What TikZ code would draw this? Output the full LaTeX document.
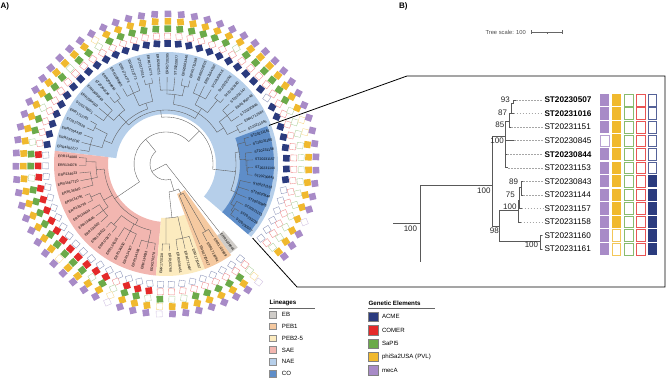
\documentclass[tikz,border=0pt]{standalone}
\usepackage{fontspec}
\setmainfont{Liberation Sans}
\usetikzlibrary{positioning}

\definecolor{acme}{HTML}{2B3B7E}
\definecolor{comer}{HTML}{E42A2A}
\definecolor{sapi}{HTML}{6BAA4A}
\definecolor{pvl}{HTML}{F0B92E}
\definecolor{meca}{HTML}{A88BC7}
\definecolor{ebc}{HTML}{CFCCC8}
\definecolor{pebone}{HTML}{F5C9A0}
\definecolor{pebtwo}{HTML}{FCEBBF}
\definecolor{saec}{HTML}{F2B6B0}
\definecolor{naec}{HTML}{B6CFEA}
\definecolor{coc}{HTML}{5E8DC8}

\tikzset{
  declare function={lf(\x)=-38+5.09*\x;},
  branch/.style={draw=black!65, line width=0.35pt},
  guide/.style={draw=black!35, dash pattern=on 1.5pt off 1.5pt, line width=0.35pt},
  leaflab/.style={font=\fontsize{3.5}{4}\selectfont, inner sep=0pt},
  tiplab/.style={font=\fontsize{8.2}{9}\selectfont, inner sep=0pt, anchor=west},
  bootlab/.style={font=\fontsize{8}{9}\selectfont, inner sep=0pt, anchor=east, text=black!85},
  legtitle/.style={font=\bfseries\fontsize{6.2}{7}\selectfont, inner sep=0pt, anchor=west},
  legtext/.style={font=\fontsize{6.1}{7}\selectfont, inner sep=0pt},
  linbox/.style={draw=black!45, line width=0.3pt, minimum width=7.2pt, minimum height=6.8pt, inner sep=0pt},
  gebox/.style={draw=black!50, line width=0.3pt, minimum width=9.3pt, minimum height=9.3pt, inner sep=0pt},
  callout/.style={draw=black, line width=0.8pt},
  panlab/.style={font=\bfseries\fontsize{8}{9}\selectfont, inner sep=0pt, anchor=west}
}

% annular sector: colour, from leaf, to leaf, inner r, outer r
\newcommand\sector[5]{%
  \pgfmathsetmacro\angA{lf(#2)}\pgfmathsetmacro\angB{lf(#3)}%
  \fill[#1] (\angA:#4) arc[start angle=\angA, end angle=\angB, radius=#4]
    -- (\angB:#5) arc[start angle=\angB, end angle=\angA, radius=#5] -- cycle;}
% ring square in panel A: value, colour, radius (uses \ang)
\newcommand\ringsq[3]{\ifnum#1=1
  \fill[#2, shift={(\ang:#3)}, rotate=\ang] (-3.3,-3.3) rectangle (3.3,3.3);\else
  \draw[#2!55, line width=0.35pt, fill=white, shift={(\ang:#3)}, rotate=\ang] (-3,-3) rectangle (3,3);\fi}
% square in panel B: value, colour, x centre (uses \yy)
\newcommand\bsq[3]{\ifnum#1=1
  \fill[#2] (#3-4.65,\yy-6.2) rectangle (#3+4.65,\yy+6.2);\else
  \draw[#2!80, line width=0.55pt] (#3-4.2,\yy-5.8) rectangle (#3+4.2,\yy+5.8);\fi}

\begin{document}
\begin{tikzpicture}[x=1pt, y=-1pt]
\useasboundingbox (0,0) rectangle (666,379);

\node[panlab] (labA) at (0.5,6) {A)};
\node[panlab] (labB) at (399,6) {B)};

% ---- A) circular tree
\begin{scope}[shift={(166,164)}, yscale=-1]
  % clade ranges
  \sector{naec}{-0.5}{41.5}{50}{112}
  \sector{coc}{-0.5}{11.5}{74}{108}
  \sector{saec}{41.5}{59.5}{58}{112}
  \sector{pebtwo}{59.5}{64.5}{54}{112}
  \sector{pebone}{64.5}{67.5}{32}{112}
  \sector{ebc}{67.5}{68.5}{88}{110}

  % internal nodes: radius / first child / last child / parent radius
  \foreach \r/\f/\t/\p in {
    82/0/1/80, 80/0.5/2/76, 76/1.25/5/70, 82/6/7/81, 81/6.5/8/80,
    80/7.25/9/74, 82/10/11/74, 74/8.125/10.5/70, 70/3.125/9.3125/47,
    80/12/13/68, 78/14/16/68, 68/12.5/15/60, 82/17/18/66, 76/19/21/66,
    66/17.5/20/60, 80/22/23/70, 74/24/26/70, 70/22.5/25/60, 60/13.75/23.75/54,
    82/27/28/64, 78/29/31/64, 64/27.5/30/58, 80/32/33/68, 76/34/36/68,
    68/32.5/35/58, 80/37/38/66, 78/39/41/66, 66/37.5/40/58, 58/28.75/38.75/54,
    54/18.75/33.75/47, 47/6.21875/26.25/32,
    80/42/43/70, 76/44/46/70, 70/42.5/45/62, 82/47/48/72, 78/49/51/72,
    72/47.5/50/62, 80/52/53/68, 76/54/56/68, 80/57/59/68, 68/52.5/58/62,
    62/43.75/55.25/32, 32/16.234/49.5/16,
    80/60/61/54, 76/62/64/54, 54/60.5/63/28, 78/66/67/34, 34/65/66.5/28,
    28/61.75/65.75/16, 16/32.87/63.75/0} {
    \pgfmathsetmacro\angA{lf(\f)}
    \pgfmathsetmacro\angB{lf(\t)}
    \pgfmathsetmacro\angM{lf((\f+\t)/2)}
    \draw[branch] (\angA:\r) arc[start angle=\angA, end angle=\angB, radius=\r];
    \draw[branch] (\angM:\p) -- (\angM:\r);
  }
  % leaves: index / parent radius
  \foreach \i/\p in {0/82, 1/82, 2/80, 3/76, 4/76, 5/76, 6/82, 7/82, 8/81, 9/80,
    10/82, 11/82, 12/80, 13/80, 14/78, 15/78, 16/78, 17/82, 18/82, 19/76,
    20/76, 21/76, 22/80, 23/80, 24/74, 25/74, 26/74, 27/82, 28/82, 29/78,
    30/78, 31/78, 32/80, 33/80, 34/76, 35/76, 36/76, 37/80, 38/80, 39/78,
    40/78, 41/78, 42/80, 43/80, 44/76, 45/76, 46/76, 47/82, 48/82, 49/78,
    50/78, 51/78, 52/80, 53/80, 54/76, 55/76, 56/76, 57/80, 58/80, 59/80,
    60/80, 61/80, 62/76, 63/76, 64/76, 65/34, 66/78, 67/78, 68/0} {
    \pgfmathsetmacro\angA{lf(\i)}
    \draw[branch] (\angA:\p) -- (\angA:87);
  }

  % leaf labels
  \foreach \lab [count=\i from 0] in {ST20230507, ST20231016, ST20231151,
    ST20230845, ST20230844, ST20231153, ST20230843, ST20231144, ST20231157,
    ST20231158, ST20231160, ST20231161,
    ST20231045, ERR1712584, ST20230946, ERR1950748, ST20231147, ST20181580,
    ST20202053, ST20180416, ERR2564230, ERR3026705, ERR1711288, ERR2003446,
    ST20220877, ERR1720285, ERR2564211, ERR1714771, ST20170314, ERR2212773,
    ERR1714773, ERR2098905, ERR2098854, ST20200136, ERR1695863, ERR2564503,
    ST20170601, ERR1712701, ST20170528, ERR2554430, ERR2342292, ERR4302277,
    ERR134080, ERR134078, ERR134623, ERR1567720, ERR134640, ERR134791,
    ERR134795, ERR134634, ERR134645, ERR134602, ERR134622, ERR170877,
    ERR134636, ERR134650, ERR134187, ERR134183, ERR134633, ERR170278,
    ERR1720118, ERR163768, ERR3036451, ERR1713497, ERR1720497,
    ERR1720417, ERR1713484, ERR1720589, ERR3036801} {
    \pgfmathsetmacro\ang{lf(\i)}
    \pgfmathtruncatemacro\side{(\ang<90 || \ang>270) ? 1 : 0}
    \ifnum\side=1
      \node[leaflab, anchor=west, rotate=\ang] (lA\i) at (\ang:89) {\lab};
    \else
      \pgfmathsetmacro\flip{\ang-180}
      \node[leaflab, anchor=east, rotate=\flip] (lA\i) at (\ang:89) {\lab};
    \fi
  }

  % rings: index / ACME / COMER / SaPI5 / PVL / mecA
  \foreach \i/\vn/\vr/\vg/\vy/\vp in {
    0/0/0/0/1/1, 1/0/0/0/1/1, 2/0/0/0/1/1, 3/0/0/0/1/0, 4/0/0/0/1/1,
    5/0/0/0/1/1, 6/1/0/0/1/1, 7/1/0/0/1/1, 8/1/0/0/1/1, 9/1/0/0/1/1,
    10/1/0/0/0/1, 11/1/0/0/0/1, 12/1/0/0/1/1, 13/1/0/1/1/1, 14/0/0/1/1/1,
    15/1/0/1/1/1, 16/1/0/1/1/1, 17/1/0/1/1/1, 18/1/0/1/1/1, 19/1/0/0/1/1,
    20/1/0/1/1/1, 21/1/0/1/1/1, 22/1/0/1/1/1, 23/1/0/1/1/1, 24/1/0/1/1/1,
    25/1/0/1/1/1, 26/1/0/1/1/1, 27/1/0/1/1/1, 28/1/0/1/1/1, 29/1/0/1/1/1,
    30/1/0/1/1/1, 31/1/0/0/0/1, 32/1/0/1/1/1, 33/1/0/1/1/1, 34/1/0/0/1/1,
    35/1/0/1/1/1, 36/1/0/1/1/1, 37/1/0/1/1/1, 38/1/0/0/1/1, 39/1/0/1/1/1,
    40/1/0/1/1/1, 41/1/0/0/1/1, 42/0/1/1/1/1, 43/0/1/1/1/1, 44/0/1/0/1/1,
    45/0/1/1/1/1, 46/0/1/1/1/1, 47/0/1/1/1/1, 48/0/1/1/1/1, 49/0/1/1/1/1,
    50/0/1/1/1/1, 51/0/1/1/0/1, 52/0/1/1/1/1, 53/0/1/1/1/1, 54/0/1/0/1/1,
    55/0/1/1/1/1, 56/0/0/0/0/0, 57/0/1/1/1/1, 58/0/1/1/1/1, 59/0/1/0/1/1,
    60/0/0/1/0/0, 61/0/0/0/1/1, 62/0/0/0/1/1, 63/0/0/1/1/1, 64/0/0/1/1/1,
    65/0/0/1/1/1, 66/0/0/1/1/1, 67/0/0/1/1/1, 68/0/0/0/0/0} {
    \pgfmathsetmacro\ang{lf(\i)}
    \ringsq{\vn}{acme}{120.5}
    \ringsq{\vr}{comer}{127.9}
    \ringsq{\vg}{sapi}{135.3}
    \ringsq{\vy}{pvl}{142.7}
    \ringsq{\vp}{meca}{150.1}
  }

  \pgfmathsetmacro\angA{lf(11.5)}
  \pgfmathsetmacro\angB{lf(-0.5)}
  \coordinate (coTop) at (\angA:110);
  \coordinate (coBot) at (\angB:114);
\end{scope}

% callout to panel B
\coordinate (bxTL) at (407,76);
\coordinate (bxTR) at (665,76);
\coordinate (bxBR) at (665,287);
\coordinate (bxBL) at (297,287);
\draw[callout] (coTop) -- (bxTL) -- (bxTR) -- (bxBR) -- (bxBL) -- (coBot);

% tree scale
\node[font=\fontsize{5.8}{6.5}\selectfont, text=black!70, inner sep=0pt, anchor=east] (tscale) at (526,32.3) {Tree scale: 100};
\coordinate (sbL) at (531.7,32.3);
\coordinate (sbM) at (547,32.3);
\coordinate (sbR) at (562.3,32.3);
\draw[black!60, line width=0.45pt] (sbL) -- (sbR);
\draw[black!60, line width=0.45pt] (sbL) ++(0,-1.8) -- ++(0,3.6);
\draw[black!60, line width=0.45pt] (sbR) ++(0,-1.8) -- ++(0,3.6);
\draw[black!60, line width=0.45pt] (sbM) -- ++(0,1.4);

% ---- B) tree
\coordinate (rootB) at (393.3,223.3);
\coordinate (nR) at (420,223.3);
\coordinate (cutB) at (420,261.7);
\coordinate (nA) at (492.3,185);
\coordinate (nU) at (505.7,136.7);
\coordinate (n85) at (509,121.7);
\coordinate (n87) at (511.7,113.3);
\coordinate (n93) at (513.7,103.3);
\coordinate (nL) at (499,226.7);
\coordinate (nLa) at (518.3,210);
\coordinate (n75) at (519.7,200);
\coordinate (n89) at (521,187.5);
\coordinate (nLb) at (540,241.7);
\draw[branch, line width=0.5pt] (rootB) -- (nR) -- (cutB);
\draw[branch, line width=0.5pt] (nR) |- (nA);
\draw[branch, line width=0.5pt] (nA) |- (nU);
\draw[branch, line width=0.5pt] (nA) |- (nL);
\draw[branch, line width=0.5pt] (nU) |- (n85);
\draw[branch, line width=0.5pt] (n85) |- (n87);
\draw[branch, line width=0.5pt] (n87) |- (n93);
\draw[branch, line width=0.5pt] (nL) |- (nLa);
\draw[branch, line width=0.5pt] (nL) |- (nLb);
\draw[branch, line width=0.5pt] (nLa) |- (n75);
\draw[branch, line width=0.5pt] (n75) |- (n89);

% tips: index / name / bold / parent / tip x
\foreach \k/\t/\b/\pnode/\tx in {0/ST20230507/1/n93/516, 1/ST20231016/1/n87/513.7,
    2/ST20231151/0/n85/511, 3/ST20230845/0/nU/514, 4/ST20230844/1/nU/507,
    5/ST20231153/0/nU/508, 6/ST20230843/0/n89/523, 7/ST20231144/0/n89/523,
    8/ST20231157/0/n75/521.5, 9/ST20231158/0/nLa/520.5, 10/ST20231160/0/nLb/542,
    11/ST20231161/0/nLb/542} {
  \pgfmathsetmacro\yy{100+13.55*\k}
  \ifnum\b=1
    \node[tiplab, font=\bfseries\fontsize{8.2}{9}\selectfont] (tipB\k) at (544.3,\yy) {\t};
  \else
    \node[tiplab] (tipB\k) at (544.3,\yy) {\t};
  \fi
  \coordinate (tB\k) at (\tx,\yy);
  \draw[branch, line width=0.5pt] (\pnode) |- (tB\k);
  \draw[guide] (tB\k) -- ([xshift=-1.5pt]tipB\k.west);
}

% bootstrap values
\node[bootlab] (bs1) at (417.3,228.3) {100};
\node[bootlab] (bs2) at (490.7,190.3) {100};
\node[bootlab] (bs3) at (504,140.7) {100};
\node[bootlab] (bs4) at (504.5,125) {85};
\node[bootlab] (bs5) at (507.3,113) {87};
\node[bootlab] (bs6) at (510,100) {93};
\node[bootlab] (bs7) at (518.3,181.3) {89};
\node[bootlab] (bs8) at (515,195) {75};
\node[bootlab] (bs9) at (516.7,206.7) {100};
\node[bootlab] (bs10) at (499,230.3) {98};
\node[bootlab] (bs11) at (538.3,245) {100};

% B squares: mecA / PVL / SaPI5 / COMER / ACME
\foreach \k/\vp/\vy/\vg/\vr/\vn in {0/1/1/0/0/0, 1/1/1/0/0/0, 2/1/1/0/0/0,
    3/0/1/0/0/0, 4/1/1/0/0/0, 5/1/1/0/0/0, 6/1/1/0/0/1, 7/1/1/0/0/1,
    8/1/1/0/0/1, 9/1/1/0/0/1, 10/1/0/0/0/1, 11/1/0/0/0/1} {
  \pgfmathsetmacro\yy{100+13.55*\k}
  \bsq{\vp}{meca}{604.65}
  \bsq{\vy}{pvl}{616.35}
  \bsq{\vg}{sapi}{628.65}
  \bsq{\vr}{comer}{640.65}
  \bsq{\vn}{acme}{652.2}
}

% ---- legends
\node[legtitle] (linT) at (269.3,303.3) {Lineages};
\draw[black!60, line width=0.45pt] (269.3,308.3) -- (315,308.3);
\foreach \c/\t [count=\k from 0] in {ebc/EB, pebone/PEB1, pebtwo/PEB2-5, saec/SAE, naec/NAE, coc/CO} {
  \pgfmathsetmacro\yy{314.3+11.9*\k}
  \node[linbox, fill=\c] (lin\k) at (273,\yy) {};
  \node[legtext, right=5pt of lin\k] (lint\k) {\t};
}
\node[legtitle] (geT) at (368.3,303.3) {Genetic Elements};
\draw[black!60, line width=0.45pt] (368.3,308.3) -- (435,308.3);
\foreach \c/\t [count=\k from 0] in {acme/ACME, comer/COMER, sapi/SaPI5, pvl/phiSa2USA (PVL), meca/mecA} {
  \pgfmathsetmacro\yy{316.7+13.33*\k}
  \node[gebox, fill=\c] (ge\k) at (373,\yy) {};
  \node[legtext, right=4pt of ge\k] (get\k) {\t};
}
\end{tikzpicture}
\end{document}
